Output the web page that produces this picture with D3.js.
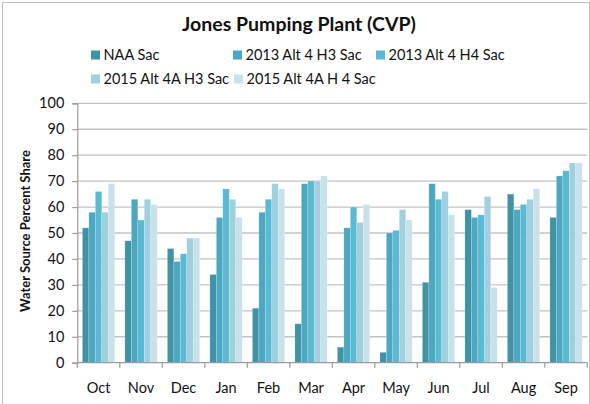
<!DOCTYPE html>
<html>
<head>
<meta charset="utf-8">
<script src="https://cdn.jsdelivr.net/npm/d3@7/dist/d3.min.js"></script>
<style>
  body { margin: 0; background: #fff; }
  svg { display: block; font-family: Lato, "Open Sans", sans-serif; }
</style>
</head>
<body>
<div id="chart"></div>
<script>
const months = ["Oct", "Nov", "Dec", "Jan", "Feb", "Mar", "Apr", "May", "Jun", "Jul", "Aug", "Sep"];
const seriesNames = ["NAA Sac", "2013 Alt 4 H3 Sac", "2013 Alt 4 H4 Sac", "2015 Alt 4A H3 Sac", "2015 Alt 4A H 4 Sac"];
const naaSac = [52, 47, 44, 34, 21, 15, 6, 4, 31, 59, 65, 56];
const alt4H3_2013 = [58, 63, 39, 56, 58, 69, 52, 50, 69, 56, 59, 72];
const alt4H4_2013 = [66, 55, 42, 67, 63, 70, 60, 51, 63, 57, 61, 74];
const alt4AH3_2015 = [58, 63, 48, 63, 69, 70, 54, 59, 66, 64, 63, 77];
const alt4AH4_2015 = [69, 61, 48, 56, 67, 72, 61, 55, 57, 29, 67, 77];
const yTicks = [0, 10, 20, 30, 40, 50, 60, 70, 80, 90, 100];
const colors = ["#3f93a5", "#4ba8c0", "#5bbad3", "#a0cfde", "#c8e1ea"];

const values = [naaSac, alt4H3_2013, alt4H4_2013, alt4AH3_2015, alt4AH4_2015];
const width = 590, height = 404;
const plot = {left: 77.3, right: 587.3, top: 103.3, bottom: 362.7};

const svg = d3.select("#chart").append("svg")
  .attr("width", width)
  .attr("height", height);

// outer frame
svg.append("rect")
  .attr("x", 2.5).attr("y", 2.5)
  .attr("width", 587).attr("height", 420)
  .attr("fill", "none")
  .attr("stroke", "#bfbfbf");

const x = d3.scaleBand()
  .domain(months)
  .range([plot.left, plot.right])
  .paddingInner(0.24)
  .paddingOuter(0.12);

const xs = d3.scaleBand()
  .domain(d3.range(seriesNames.length))
  .range([0, x.bandwidth()]);

const y = d3.scaleLinear()
  .domain([0, 100])
  .range([plot.bottom, plot.top]);

// gridlines
svg.append("g")
  .selectAll("line")
  .data(yTicks.filter(d => d > 0))
  .join("line")
  .attr("x1", plot.left).attr("x2", plot.right)
  .attr("y1", d => y(d)).attr("y2", d => y(d))
  .attr("stroke", "#c3c3c3")
  .attr("stroke-width", 1.3);

// bars
const groups = svg.append("g")
  .selectAll("g")
  .data(months)
  .join("g")
  .attr("transform", m => `translate(${x(m)},0)`);

groups.selectAll("rect")
  .data((m, i) => values.map((s, k) => ({k, v: s[i]})))
  .join("rect")
  .attr("x", d => xs(d.k))
  .attr("width", xs.bandwidth())
  .attr("y", d => y(d.v))
  .attr("height", d => y(0) - y(d.v))
  .attr("fill", d => colors[d.k])
  .attr("stroke", "#ffffff")
  .attr("stroke-opacity", 0.35)
  .attr("stroke-width", 0.5);

// y axis
const yAxis = svg.append("g")
  .attr("transform", `translate(${plot.left},0)`)
  .call(d3.axisLeft(y).tickValues(yTicks).tickSize(5).tickPadding(8));
yAxis.select(".domain").attr("stroke", "#9a9a9a").attr("stroke-width", 1.2);
yAxis.selectAll(".tick line").attr("stroke", "#9a9a9a").attr("stroke-width", 1.2);
yAxis.selectAll(".tick text")
  .attr("font-size", 14.5)
  .attr("font-family", "Lato, sans-serif")
  .attr("fill", "#111");

// x axis with ticks at category boundaries
const xAxisG = svg.append("g");
const gap = (x.step() - x.bandwidth()) / 2;
const boundaries = months.map(m => x(m) - gap).concat([x(months[months.length - 1]) + x.bandwidth() + gap]);
xAxisG.append("line")
  .attr("x1", plot.left).attr("x2", plot.right)
  .attr("y1", plot.bottom).attr("y2", plot.bottom)
  .attr("stroke", "#9a9a9a").attr("stroke-width", 1.2);
xAxisG.selectAll("line.tick")
  .data(boundaries)
  .join("line")
  .attr("class", "tick")
  .attr("x1", d => d).attr("x2", d => d)
  .attr("y1", plot.bottom).attr("y2", plot.bottom + 5)
  .attr("stroke", "#9a9a9a").attr("stroke-width", 1.2);
xAxisG.selectAll("text")
  .data(months)
  .join("text")
  .attr("x", m => x(m) + x.bandwidth() / 2)
  .attr("y", 393)
  .attr("text-anchor", "middle")
  .attr("font-size", 14.5)
  .attr("fill", "#111")
  .text(m => m);

// y title
svg.append("text")
  .attr("transform", "translate(30,231) rotate(-90)")
  .attr("text-anchor", "middle")
  .attr("font-size", 13)
  .attr("font-weight", "bold")
  .attr("fill", "#111")
  .text("Water Source Percent Share");

// title
svg.append("text")
  .attr("x", 299)
  .attr("y", 31)
  .attr("text-anchor", "middle")
  .attr("font-size", 19.5)
  .attr("font-weight", "bold")
  .attr("fill", "#111")
  .text("Jones Pumping Plant (CVP)");

// legend
const legendPos = [
  {x: 91, y: 55}, {x: 233, y: 55}, {x: 376, y: 55},
  {x: 91, y: 79}, {x: 234, y: 79}
];
const legend = svg.append("g")
  .selectAll("g")
  .data(seriesNames)
  .join("g")
  .attr("transform", (d, i) => `translate(${legendPos[i].x},${legendPos[i].y})`);
legend.append("rect")
  .attr("x", 0).attr("y", -4.5)
  .attr("width", 9).attr("height", 9)
  .attr("fill", (d, i) => colors[i]);
legend.append("text")
  .attr("x", 12.5)
  .attr("y", 0)
  .attr("dy", "0.36em")
  .attr("font-size", 14.5)
  .attr("fill", "#111")
  .text(d => d);
</script>
</body>
</html>
